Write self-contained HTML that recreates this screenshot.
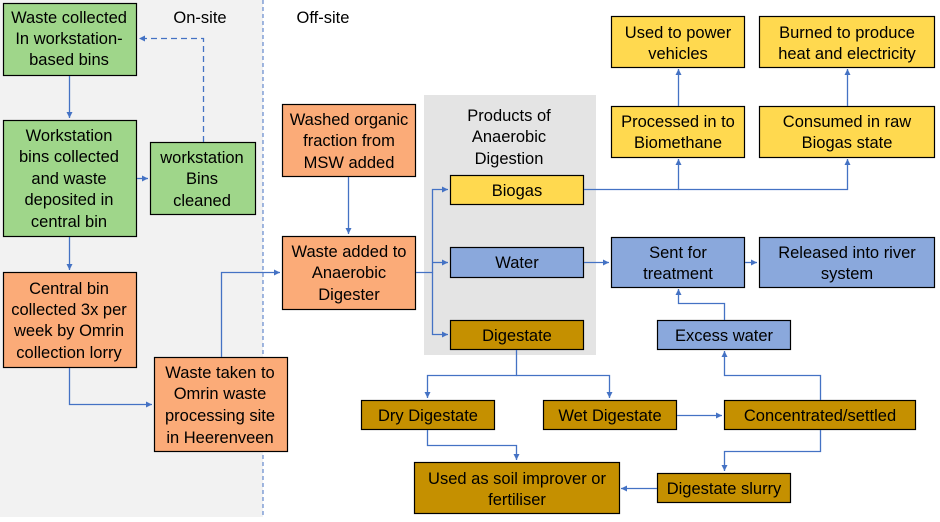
<!DOCTYPE html>
<html><head><style>
body{margin:0;width:940px;height:517px;overflow:hidden;background:#fff;font-family:"Liberation Sans",sans-serif}
</style></head><body>
<svg width="940" height="517" viewBox="0 0 940 517" xmlns="http://www.w3.org/2000/svg" font-family="Liberation Sans, sans-serif" font-size="16.5" text-anchor="middle" fill="#000">
<defs><marker id="a" markerWidth="8" markerHeight="8" refX="6" refY="3" orient="auto" markerUnits="userSpaceOnUse"><path d="M0,0 L6,3 L0,6 z" fill="#4472c4"/></marker></defs>
<rect x="0" y="0" width="263" height="517" fill="#f2f2f2"/>
<line x1="263" y1="0" x2="263" y2="517" stroke="#4472c4" stroke-dasharray="4,3" stroke-width="1"/>
<rect x="424" y="95" width="172" height="260" fill="#e4e4e4"/>
<text x="200" y="23">On-site</text>
<text x="323" y="23">Off-site</text>
<g stroke="#000" stroke-width="1.2">
<rect x="3.5" y="3.5" width="133" height="72" fill="#9fd68a"/>
<rect x="3.5" y="120.5" width="133" height="116" fill="#9fd68a"/>
<rect x="150.5" y="142.5" width="105" height="72" fill="#9fd68a"/>
<rect x="3.5" y="272.5" width="133" height="95" fill="#fbab78"/>
<rect x="154.5" y="357.5" width="133" height="94" fill="#fbab78"/>
<rect x="282.5" y="104.5" width="133" height="72" fill="#fbab78"/>
<rect x="282.5" y="236.5" width="133" height="73" fill="#fbab78"/>
<rect x="450.5" y="175.5" width="133" height="29" fill="#ffd94f"/>
<rect x="450.5" y="247.5" width="133" height="30" fill="#8aa8dc"/>
<rect x="450.5" y="320.5" width="133" height="29" fill="#c59000"/>
<rect x="611.5" y="16.5" width="133" height="51" fill="#ffd94f"/>
<rect x="759.5" y="16.5" width="175" height="51" fill="#ffd94f"/>
<rect x="611.5" y="106.5" width="133" height="51" fill="#ffd94f"/>
<rect x="759.5" y="106.5" width="175" height="51" fill="#ffd94f"/>
<rect x="611.5" y="237.5" width="133" height="50" fill="#8aa8dc"/>
<rect x="759.5" y="237.5" width="175" height="50" fill="#8aa8dc"/>
<rect x="657.5" y="320.5" width="133" height="29" fill="#8aa8dc"/>
<rect x="361.5" y="400.5" width="133" height="29" fill="#c59000"/>
<rect x="543.5" y="400.5" width="133" height="29" fill="#c59000"/>
<rect x="724.5" y="400.5" width="191" height="29" fill="#c59000"/>
<rect x="414.5" y="462.5" width="205" height="51" fill="#c59000"/>
<rect x="657.5" y="473.5" width="133" height="29" fill="#c59000"/>
</g>
<g fill="none" stroke="#4472c4" stroke-width="1.3" marker-end="url(#a)">
<path d="M69.5,76 V118"/>
<path d="M69.5,237 V270"/>
<path d="M137,178.5 H148"/>
<path d="M203.5,142 V38.5 H139" stroke-dasharray="6,4"/>
<path d="M69.5,368 V404.5 H152"/>
<path d="M221.5,357 V272.5 H280"/>
<path d="M348.5,177 V234"/>
<path d="M416,272.5 H432.5 V189.5 H448"/>
<path d="M432.5,272.5 V334.5 H448"/>
<path d="M432.5,262.5 H448"/>
<path d="M584,189.5 H678.5 V159"/>
<path d="M678.5,189.5 H847.5 V159"/>
<path d="M678.5,106 V69"/>
<path d="M847.5,106 V69"/>
<path d="M584,262.5 H609"/>
<path d="M745,262.5 H757"/>
<path d="M724.5,320 V303.5 H678.5 V289"/>
<path d="M516.5,350 V375.5 H427.5 V398"/>
<path d="M516.5,375.5 H609.5 V398"/>
<path d="M677,415.5 H722"/>
<path d="M820.5,400 V375.5 H724.5 V351"/>
<path d="M820.5,430 V451.5 H724.5 V471"/>
<path d="M657,488.5 H621"/>
<path d="M427.5,430 V445.5 H516.5 V460"/>
</g>
<text x="69" y="23">Waste collected</text><text x="69" y="44">In workstation-</text><text x="69" y="65">based bins</text>
<text x="69" y="141">Workstation</text><text x="69" y="162">bins collected</text><text x="69" y="184">and waste</text><text x="69" y="205">deposited in</text><text x="69" y="227">central bin</text>
<text x="202" y="163">workstation</text><text x="202" y="184">Bins</text><text x="202" y="206">cleaned</text>
<text x="69" y="294">Central bin</text><text x="69" y="315">collected 3x per</text><text x="69" y="336">week by Omrin</text><text x="69" y="358">collection lorry</text>
<text x="220" y="378">Waste taken to</text><text x="220" y="399">Omrin waste</text><text x="220" y="421">processing site</text><text x="220" y="443">in Heerenveen</text>
<text x="349" y="125">Washed organic</text><text x="349" y="146">fraction from</text><text x="349" y="168">MSW added</text>
<text x="349" y="257">Waste added to</text><text x="349" y="278">Anaerobic</text><text x="349" y="300">Digester</text>
<text x="509" y="121">Products of</text><text x="509" y="142">Anaerobic</text><text x="509" y="164">Digestion</text>
<text x="517" y="196">Biogas</text>
<text x="517" y="268">Water</text>
<text x="517" y="341">Digestate</text>
<text x="678" y="38">Used to power</text><text x="678" y="59">vehicles</text>
<text x="847" y="38">Burned to produce</text><text x="847" y="59">heat and electricity</text>
<text x="678" y="127">Processed in to</text><text x="678" y="148">Biomethane</text>
<text x="847" y="127">Consumed in raw</text><text x="847" y="148">Biogas state</text>
<text x="678" y="258">Sent for</text><text x="678" y="279">treatment</text>
<text x="847" y="258">Released into river</text><text x="847" y="279">system</text>
<text x="724" y="341">Excess water</text>
<text x="428" y="421">Dry Digestate</text>
<text x="610" y="421">Wet Digestate</text>
<text x="820" y="421">Concentrated/settled</text>
<text x="517" y="484">Used as soil improver or</text><text x="517" y="505">fertiliser</text>
<text x="724" y="494">Digestate slurry</text>
</svg>
</body></html>
